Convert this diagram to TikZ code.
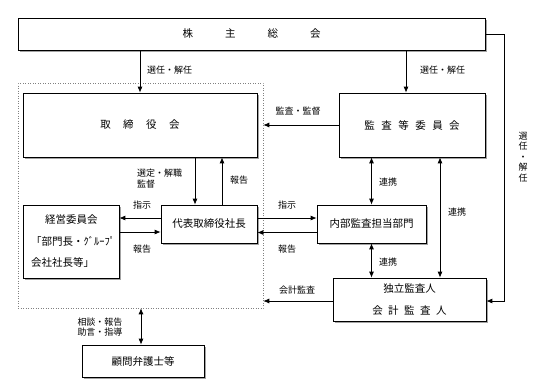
\documentclass[tikz,border=0pt]{standalone}
\usepackage{fontspec}
\setmainfont{Noto Sans CJK JP}
\usetikzlibrary{arrows.meta,shadows}
\newcommand\boxfont{\fontsize{10.5}{21.5}\selectfont}
\newcommand\labfont{\fontsize{9}{10.5}\selectfont}
\begin{document}
\begin{tikzpicture}[x=1pt,y=-1pt,
  box/.style={draw, line width=0.7pt, fill=white, inner sep=0pt, font=\boxfont,
    drop shadow={shadow xshift=1.5pt, shadow yshift=-1.5pt, fill=black!60, opacity=0.6}},
  lab/.style={font=\labfont, inner sep=0pt},
  arr/.style={line width=0.8pt, -{Latex[length=6pt,width=5pt]}},
  darr/.style={line width=0.8pt, {Latex[length=6pt,width=5pt]}-{Latex[length=6pt,width=5pt]}}]
\useasboundingbox (0,0) rectangle (547,383);
% group
\node[draw=black!50, dotted, line width=0.5pt, minimum width=245pt, minimum height=225pt, inner sep=0pt] (grp) at (140.5,195.5) {};
% boxes
\node[box, minimum width=467pt, minimum height=32pt] (sh) at (251.5,34) {株\hspace{32pt}主\hspace{32pt}総\hspace{32pt}会};
\node[box, minimum width=234pt, minimum height=64pt] (bd) at (140,125) {取\hspace{12.5pt}締\hspace{12.5pt}役\hspace{12.5pt}会};
\node[box, minimum width=146pt, minimum height=64pt] (ac) at (412,125) {監\hspace{6.5pt}査\hspace{6.5pt}等\hspace{6.5pt}委\hspace{6.5pt}員\hspace{6.5pt}会};
\node[box, minimum width=96pt, minimum height=73pt, text width=80pt, align=left] (mc) at (71,241.5) {\hspace*{14pt}経営委員会\\「部門長・ｸﾞﾙｰﾌﾟ\\会社社長等」};
\node[box, minimum width=96pt, minimum height=38pt] (ceo) at (209,224) {代表取締役社長};
\node[box, minimum width=109pt, minimum height=38pt] (ia) at (371.5,224) {内部監査担当部門};
\node[box, minimum width=153pt, minimum height=43pt, align=center] (ea) at (409.5,299.5) {独立監査人\\会\hspace{5.5pt}計\hspace{5.5pt}監\hspace{5.5pt}査\hspace{5.5pt}人};
\node[box, minimum width=122pt, minimum height=32pt] (lw) at (143,361) {顧問弁護士等};
% coordinates
\coordinate (rr) at (504,0);
\coordinate (c440) at (440,0);
% connectors
\draw[arr] (bd.north |- sh.south) -- (bd.north);
\node[lab, anchor=west] (l1) at (147,70) {選任・解任};
\draw[arr] ([xshift=-6pt]ac.north |- sh.south) -- ([xshift=-6pt]ac.north);
\node[lab, anchor=west] (l2) at (420,70) {選任・解任};
\draw[arr] (sh.east) -- (sh.east -| rr) -- ([yshift=-1.5pt]ea.east -| rr) -- ([yshift=-1.5pt]ea.east);
\node[lab, align=center] (l3) at (523,157) {選\\任\\・\\解\\任};
\draw[arr] (ac.west) -- (ac.west -| grp.east);
\node[lab] (l4) at (298,111) {監査・監督};
\draw[arr] ([xshift=-14pt]ceo.north |- bd.south) -- ([xshift=-14pt]ceo.north);
\draw[arr] ([xshift=13pt]ceo.north) -- ([xshift=13pt]ceo.north |- bd.south);
\node[lab, anchor=west, align=left] (l5) at (137,178.5) {選定・解職\\監督};
\node[lab] (l6) at (239,180) {報告};
\draw[arr] ([yshift=6pt]ceo.west) -- ([yshift=6pt]ceo.west -| mc.east);
\draw[arr] ([yshift=-8pt]ceo.west -| mc.east) -- ([yshift=-8pt]ceo.west);
\node[lab] (l7) at (142,205) {指示};
\node[lab] (l8) at (142,249) {報告};
\draw[arr] ([yshift=6pt]ceo.east) -- ([yshift=6pt]ceo.east -| ia.west);
\draw[arr] ([yshift=-8.5pt]ceo.east -| ia.west) -- ([yshift=-8.5pt]ceo.east);
\node[lab] (l9) at (287,205) {指示};
\node[lab] (l10) at (287,249) {報告};
\draw[darr] (ia.north |- ac.south) -- (ia.north);
\node[lab] (l11) at (388,182) {連携};
\draw[darr] (ia.south) -- (ia.south |- ea.north);
\node[lab] (l12) at (388,262) {連携};
\draw[darr] (ac.south -| c440) -- (ea.north -| c440);
\node[lab] (l13) at (457,212) {連携};
\draw[arr] ([yshift=-1.5pt]ea.west) -- ([yshift=-1.5pt]ea.west -| grp.east);
\node[lab] (l14) at (297,290) {会計監査};
\draw[darr] ([xshift=-2pt]lw.north |- grp.south) -- ([xshift=-2pt]lw.north);
\node[lab, align=left] (l15) at (100,327) {相談・報告\\助言・指導};
\end{tikzpicture}
\end{document}
